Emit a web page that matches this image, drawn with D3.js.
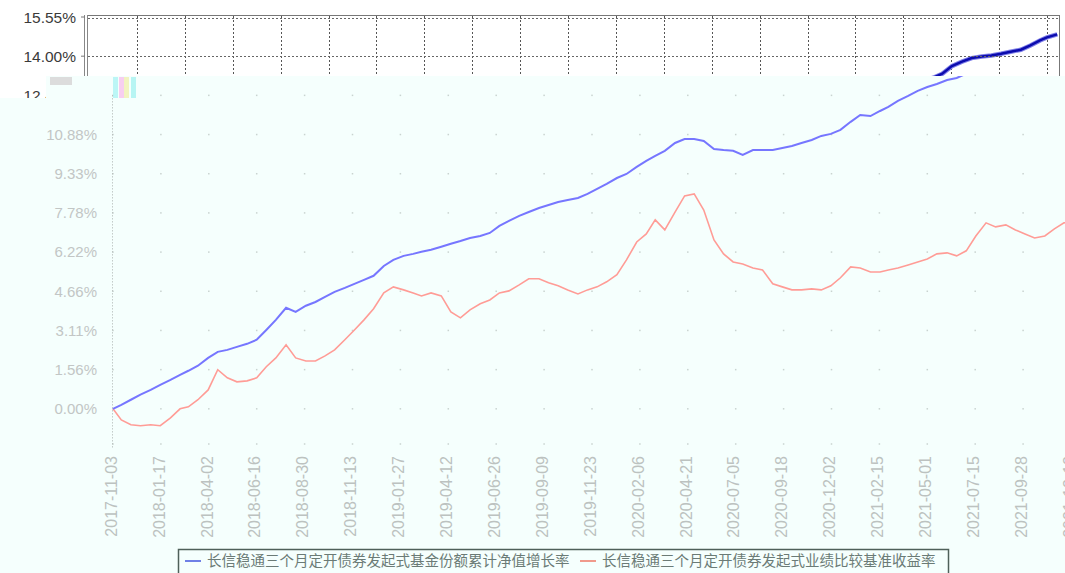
<!DOCTYPE html>
<html lang="zh">
<head>
<meta charset="utf-8">
<title>长信稳通三个月定开债券发起式</title>
<script src="https://cdn.jsdelivr.net/npm/d3@7/dist/d3.min.js"></script>
<style>
body { margin: 0; background: #fff; }
svg { display: block; }
</style>
</head>
<body>
<script>
var w = 1065, h = 573;

// half-monthly samples
var dates = ["2017-11-03","2017-11-16","2017-12-01","2017-12-16",
  "2018-01-01","2018-01-16","2018-02-01","2018-02-16","2018-03-01","2018-03-16","2018-04-01","2018-04-16",
  "2018-05-01","2018-05-16","2018-06-01","2018-06-16","2018-07-01","2018-07-16","2018-08-01","2018-08-16",
  "2018-09-01","2018-09-16","2018-10-01","2018-10-16","2018-11-01","2018-11-16","2018-12-01","2018-12-16",
  "2019-01-01","2019-01-16","2019-02-01","2019-02-16","2019-03-01","2019-03-16","2019-04-01","2019-04-16",
  "2019-05-01","2019-05-16","2019-06-01","2019-06-16","2019-07-01","2019-07-16","2019-08-01","2019-08-16",
  "2019-09-01","2019-09-16","2019-10-01","2019-10-16","2019-11-01","2019-11-16","2019-12-01","2019-12-16",
  "2020-01-01","2020-01-16","2020-02-01","2020-02-16","2020-03-01","2020-03-16","2020-04-01","2020-04-16",
  "2020-05-01","2020-05-16","2020-06-01","2020-06-16","2020-07-01","2020-07-16","2020-08-01","2020-08-16",
  "2020-09-01","2020-09-16","2020-10-01","2020-10-16","2020-11-01","2020-11-16","2020-12-01","2020-12-16",
  "2021-01-01","2021-01-16","2021-02-01","2021-02-16","2021-03-01","2021-03-16","2021-04-01","2021-04-16",
  "2021-05-01","2021-05-16","2021-06-01","2021-06-16","2021-07-01","2021-07-16","2021-08-01","2021-08-16",
  "2021-09-01","2021-09-16","2021-10-01","2021-10-16","2021-11-01","2021-11-16","2021-12-01","2021-12-12","2021-12-28"];

var nav = [0, 0.16, 0.36, 0.56,
  0.75, 0.95, 1.15, 1.35, 1.51, 1.71, 2.02, 2.26, 2.34, 2.46, 2.58, 2.74, 3.13, 3.53, 4.01, 3.85, 4.09, 4.24, 4.44, 4.64, 4.80, 4.96, 5.12, 5.28,
  5.67, 5.91, 6.07, 6.15, 6.23, 6.31, 6.43, 6.55, 6.66, 6.78, 6.86, 6.98, 7.26, 7.46, 7.66, 7.81, 7.97, 8.09, 8.21, 8.29, 8.37, 8.53, 8.73, 8.93,
  9.16, 9.32, 9.60, 9.84, 10.04, 10.24, 10.55, 10.71, 10.71, 10.63, 10.31, 10.27, 10.24, 10.08, 10.27, 10.27, 10.27, 10.35, 10.43, 10.55, 10.67, 10.83, 10.91, 11.07,
  11.39, 11.66, 11.62, 11.82, 11.98, 12.22, 12.42, 12.62, 12.77, 12.89, 13.05, 13.13, 13.30, 13.60, 13.78, 13.92, 13.98, 14.02, 14.09, 14.17, 14.25, 14.42, 14.62, 14.74, 14.86];

var bench = [0, -0.44, -0.63, -0.67,
  -0.63, -0.67, -0.36, 0.00, 0.08, 0.36, 0.75, 1.55, 1.23, 1.07, 1.11, 1.23, 1.67, 2.02, 2.54, 2.02, 1.90, 1.90, 2.10, 2.34, 2.74, 3.13, 3.53, 3.97,
  4.60, 4.84, 4.72, 4.60, 4.48, 4.60, 4.48, 3.85, 3.61, 3.93, 4.17, 4.32, 4.60, 4.68, 4.92, 5.16, 5.16, 5.00, 4.88, 4.72, 4.56, 4.72, 4.84, 5.04,
  5.32, 5.91, 6.62, 6.94, 7.50, 7.10, 7.81, 8.45, 8.53, 7.89, 6.70, 6.15, 5.83, 5.75, 5.59, 5.51, 4.96, 4.84, 4.72, 4.72, 4.76, 4.72, 4.88, 5.20,
  5.63, 5.59, 5.43, 5.43, 5.51, 5.59, 5.71, 5.83, 5.95, 6.15, 6.19, 6.07, 6.27, 6.86, 7.38, 7.22, 7.30, 7.10, 6.94, 6.78, 6.86, 7.14, 7.38, 7.42, 7.46];

var tickDates = ["2017-11-03","2018-01-17","2018-04-02","2018-06-16","2018-08-30","2018-11-13","2019-01-27",
  "2019-04-12","2019-06-26","2019-09-09","2019-11-23","2020-02-06","2020-04-21","2020-07-05","2020-09-18",
  "2020-12-02","2021-02-15","2021-05-01","2021-07-15","2021-09-28","2021-12-12"];

var yTicks = [0, 1.555, 3.11, 4.665, 6.22, 7.775, 9.33, 10.885, 12.44, 13.995, 15.55];
var yLabels = ["0.00%","1.56%","3.11%","4.66%","6.22%","7.78%","9.33%","10.88%","12.44%","14.00%","15.55%"];

var seriesNames = ["长信稳通三个月定开债券发起式基金份额累计净值增长率",
                   "长信稳通三个月定开债券发起式业绩比较基准收益率"];

var parse = d3.timeParse("%Y-%m-%d");
var navData = dates.map(function(d, i) { return { date: parse(d), v: nav[i] }; });
var benchData = dates.map(function(d, i) { return { date: parse(d), v: bench[i] }; });

var xScale = d3.scaleTime()
  .domain([parse(tickDates[0]), parse(tickDates[tickDates.length - 1])])
  .range([113, 1071]);
var yScale = d3.scaleLinear()
  .domain([-1.555, 15.55])
  .range([448, 17]);

var line = d3.line()
  .x(function(d) { return xScale(d.date); })
  .y(function(d) { return yScale(d.v); });

var svg = d3.select("body").append("svg")
  .attr("width", w)
  .attr("height", h);

var shift = -24; // the upper strip is drawn 24px to the left

var defs = svg.append("defs");
var stripClip = defs.append("clipPath").attr("id", "stripClip");
stripClip.append("rect").attr("x", 0).attr("y", 0).attr("width", w).attr("height", 76);
stripClip.append("rect").attr("x", 0).attr("y", 76).attr("width", 46).attr("height", 22);
defs.append("clipPath").attr("id", "stripPlot")
  .append("rect").attr("x", 88 - shift).attr("y", 16).attr("width", 971).attr("height", 60);

//----- faded lower chart -----
var low = svg.append("g");
low.append("rect")
  .attr("x", 0).attr("y", 0).attr("width", w).attr("height", h)
  .attr("fill", "#f5fffd");

// grid dots at intersections
var dots = [];
tickDates.forEach(function(t) {
  yTicks.forEach(function(v) { dots.push({ x: xScale(parse(t)), y: yScale(v) }); });
  dots.push({ x: xScale(parse(t)), y: 444 });
});
low.selectAll(".gdot")
  .data(dots)
  .enter()
  .append("rect")
  .attr("x", function(d) { return d.x - 0.75; })
  .attr("y", function(d) { return d.y - 0.75; })
  .attr("width", 1.5).attr("height", 1.5)
  .attr("fill", "#c9d3d0");

// y axis (dotted)
low.append("line")
  .attr("x1", 112.5).attr("x2", 112.5)
  .attr("y1", yScale(12.44)).attr("y2", 448)
  .attr("stroke", "#a9b0ae")
  .attr("stroke-dasharray", "1,2");

low.selectAll(".ylab")
  .data(yTicks.slice(0, 8))
  .enter()
  .append("text")
  .attr("x", 97)
  .attr("y", function(d) { return yScale(d); })
  .attr("dy", "0.36em")
  .attr("text-anchor", "end")
  .attr("font-family", "Liberation Sans, Arial, sans-serif")
  .attr("font-size", "15px")
  .attr("fill", "#c2c6c5")
  .text(function(d, i) { return yLabels[i]; });

low.selectAll(".xlab")
  .data(tickDates)
  .enter()
  .append("text")
  .attr("transform", function(d) {
    return "translate(" + (xScale(parse(d)) - 2) + ",456) rotate(-90)";
  })
  .attr("dy", "0.36em")
  .attr("text-anchor", "end")
  .attr("font-family", "Liberation Sans, Arial, sans-serif")
  .attr("font-size", "16px")
  .attr("fill", "#bcc2c0")
  .text(function(d) { return d; });

low.append("path")
  .datum(benchData)
  .attr("d", line)
  .attr("fill", "none")
  .attr("stroke", "#ff9c96")
  .attr("stroke-width", 1.6);

low.append("path")
  .datum(navData)
  .attr("d", line)
  .attr("fill", "none")
  .attr("stroke", "#7676ff")
  .attr("stroke-width", 2);

// legend
var leg = low.append("g");
leg.append("rect")
  .attr("x", 178.5).attr("y", 549.5)
  .attr("width", 770).attr("height", 40)
  .attr("fill", "none")
  .attr("stroke", "#4f605a")
  .attr("stroke-width", 1.5);
var legX = [185, 580];
var legColors = ["#6f80e6", "#f09a8c"];
seriesNames.forEach(function(name, i) {
  leg.append("line")
    .attr("x1", legX[i]).attr("x2", legX[i] + 16)
    .attr("y1", 561).attr("y2", 561)
    .attr("stroke", legColors[i])
    .attr("stroke-width", 2);
  leg.append("text")
    .attr("x", legX[i] + 22)
    .attr("y", 566)
    .attr("font-family", "Noto Sans CJK SC, sans-serif")
    .attr("font-size", "14.5px")
    .attr("fill", "#6b7b76")
    .text(name);
});

//----- upper strip (darker render, shifted) -----
var strip = svg.append("g").attr("clip-path", "url(#stripClip)");
strip.append("rect")
  .attr("x", 0).attr("y", 0).attr("width", w).attr("height", 100)
  .attr("fill", "#ffffff");

var inner = strip.append("g").attr("transform", "translate(" + shift + ",0)");

inner.selectAll(".vgrid")
  .data(tickDates.slice(1))
  .enter()
  .append("line")
  .attr("x1", function(d) { return Math.round(xScale(parse(d))) + 0.5; })
  .attr("x2", function(d) { return Math.round(xScale(parse(d))) + 0.5; })
  .attr("y1", 16).attr("y2", 100)
  .attr("stroke", "#555")
  .attr("stroke-dasharray", "2,2");

strip.selectAll(".hgrid")
  .data([18.5, Math.round(yScale(13.995)) + 0.5])
  .enter()
  .append("line")
  .attr("x1", 88).attr("x2", 1059)
  .attr("y1", function(d) { return d; })
  .attr("y2", function(d) { return d; })
  .attr("stroke", "#666")
  .attr("stroke-dasharray", "2,2");

strip.append("line")
  .attr("x1", 88).attr("x2", 1059).attr("y1", 15.5).attr("y2", 15.5)
  .attr("stroke", "#777");
strip.append("line")
  .attr("x1", 1059.5).attr("x2", 1059.5).attr("y1", 15).attr("y2", 100)
  .attr("stroke", "#777");
[84.5, 87.5].forEach(function(x) {
  strip.append("line")
    .attr("x1", x).attr("x2", x).attr("y1", 15).attr("y2", 100)
    .attr("stroke", "#888");
});
strip.selectAll(".ytk")
  .data([15.55, 13.995, 12.44])
  .enter()
  .append("line")
  .attr("x1", 81).attr("x2", 85)
  .attr("y1", function(d) { return yScale(d); })
  .attr("y2", function(d) { return yScale(d); })
  .attr("stroke", "#777");

strip.selectAll(".striplab")
  .data([15.55, 13.995, 12.44])
  .enter()
  .append("text")
  .attr("x", 76)
  .attr("y", function(d) { return yScale(d); })
  .attr("dy", "0.36em")
  .attr("text-anchor", "end")
  .attr("font-family", "Liberation Sans, Arial, sans-serif")
  .attr("font-size", "15.5px")
  .attr("fill", "#3a3a3a")
  .text(function(d) { return yLabels[yTicks.indexOf(d)]; });

inner.append("path")
  .datum(navData)
  .attr("d", line)
  .attr("clip-path", "url(#stripPlot)")
  .attr("fill", "none")
  .attr("stroke", "#8080e8")
  .attr("stroke-width", 4.5);
inner.append("path")
  .datum(navData)
  .attr("d", line)
  .attr("clip-path", "url(#stripPlot)")
  .attr("fill", "none")
  .attr("stroke", "#0c0cae")
  .attr("stroke-width", 2.5);

// leftover glitch blocks near the top-left corner
var glitch = svg.append("g");
glitch.append("rect").attr("x", 50).attr("y", 77).attr("width", 22).attr("height", 8).attr("fill", "#dcdcdc");
[["#aef4f4", 113], ["#f7c2ec", 119], ["#f1f0b0", 124], ["#a8f2f0", 131]].forEach(function(s) {
  glitch.append("rect").attr("x", s[1]).attr("y", 77).attr("width", 5).attr("height", 21)
    .attr("fill", s[0]).attr("opacity", 0.8);
});
</script>
</body>
</html>
